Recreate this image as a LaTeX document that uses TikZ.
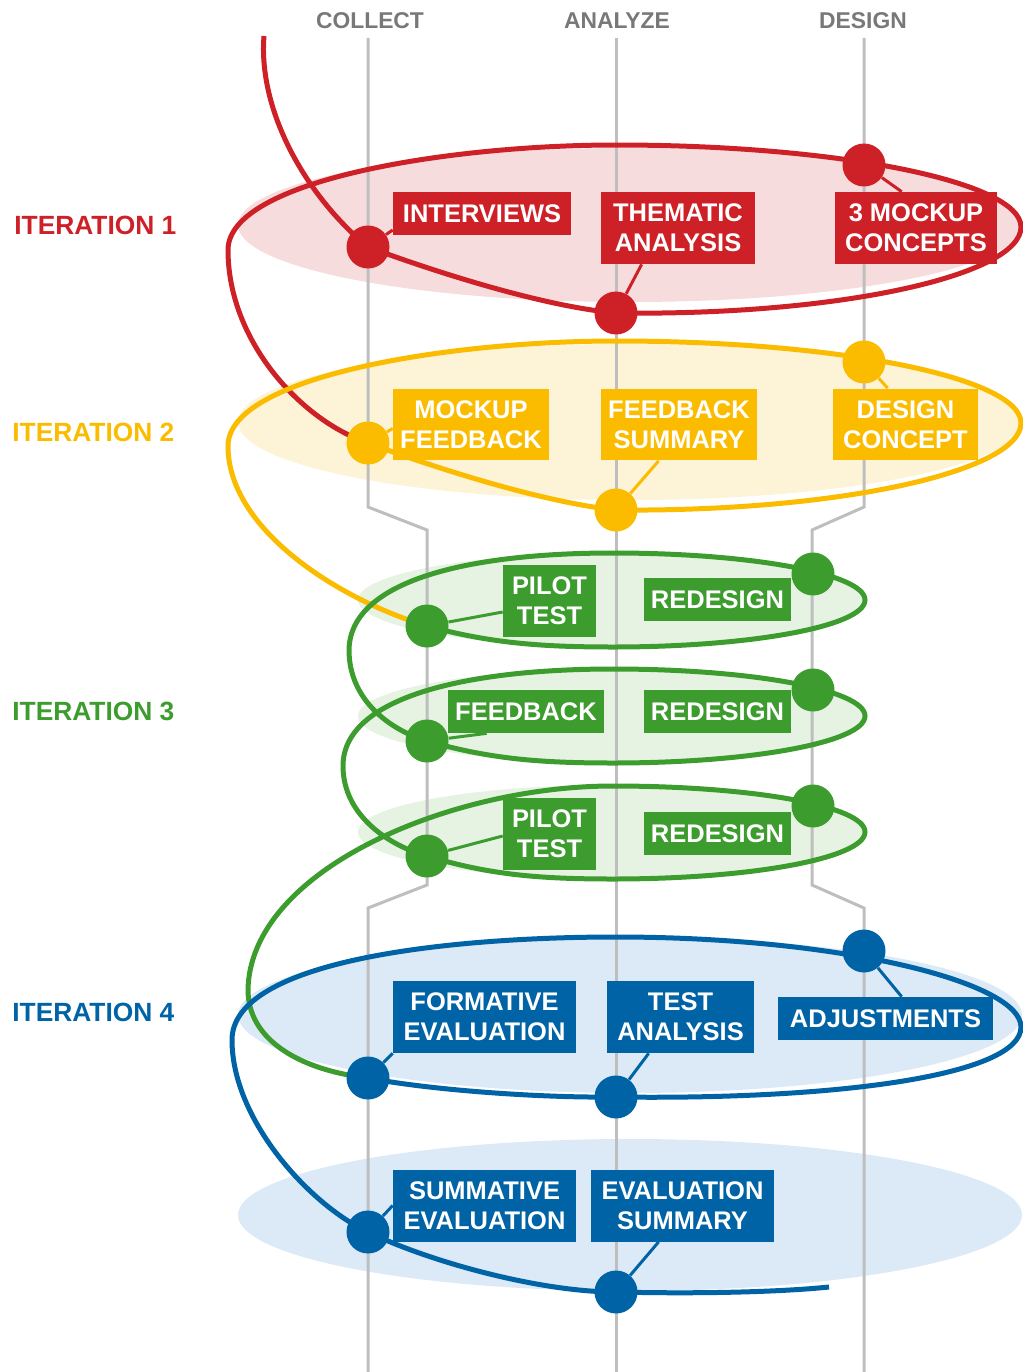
\documentclass[tikz,border=0pt]{standalone}
\usepackage{fontspec}
\setmainfont{Liberation Sans}
\usetikzlibrary{positioning}
\definecolor{itred}{RGB}{206,32,39}
\definecolor{ityellow}{RGB}{251,188,0}
\definecolor{itgreen}{RGB}{61,156,46}
\definecolor{itblue}{RGB}{0,99,166}
\definecolor{lightred}{RGB}{247,220,221}
\definecolor{lightyellow}{RGB}{253,243,215}
\definecolor{lightgreen}{RGB}{230,243,226}
\definecolor{lightblue}{RGB}{219,234,246}
\definecolor{colgray}{RGB}{190,190,190}
\definecolor{headgray}{RGB}{120,120,120}
\pgfdeclarelayer{back}
\pgfsetlayers{back,main}

\begin{document}
\begin{tikzpicture}[x=0.02cm, y=-0.02cm,
  tag/.style={fill=#1, text=white, font=\fontsize{14.5}{17}\selectfont\bfseries,
              align=center, inner sep=0pt, minimum height=0.86cm},
  tagtwo/.style={tag=#1, minimum height=1.44cm},
  spot/.style={circle, fill=#1, inner sep=0pt, minimum size=0.86cm},
  itlabel/.style={text=#1, font=\fontsize{15}{18}\selectfont\bfseries, anchor=west, inner sep=0pt},
  colhead/.style={text=headgray, font=\fontsize{13}{15}\selectfont\bfseries},
  loopline/.style={draw=#1, line width=0.1cm},
  leader/.style={draw=#1, line width=0.06cm},
  colline/.style={draw=colgray, line width=0.06cm}]
\useasboundingbox (0,0) rectangle (1023,1372);

\node[colhead] (hcol) at (370,21) {COLLECT};
\node[colhead] (hana) at (617,21) {ANALYZE};
\node[colhead] (hdes) at (863,21) {DESIGN};

\node[itlabel=itred] (it1) at (14,225) {ITERATION 1};
\node[itlabel=ityellow] (it2) at (12,432) {ITERATION 2};
\node[itlabel=itgreen] (it3) at (12,711) {ITERATION 3};
\node[itlabel=itblue] (it4) at (12,1012) {ITERATION 4};

\node[spot=itred] (i1c) at (368,247) {};
\node[spot=itred] (i1a) at (616,313) {};
\node[spot=itred] (i1d) at (864,165) {};
\node[spot=ityellow] (i2c) at (368,443) {};
\node[spot=ityellow] (i2a) at (616,510) {};
\node[spot=ityellow] (i2d) at (864,362) {};
\node[spot=itgreen] (g1c) at (427,626) {};
\node[spot=itgreen] (g1d) at (813,574) {};
\node[spot=itgreen] (g2c) at (427,741) {};
\node[spot=itgreen] (g2d) at (813,690) {};
\node[spot=itgreen] (g3c) at (427,856) {};
\node[spot=itgreen] (g3d) at (813,806) {};
\node[spot=itblue] (b1c) at (368,1078) {};
\node[spot=itblue] (b1a) at (616,1097) {};
\node[spot=itblue] (b1d) at (864,951) {};
\node[spot=itblue] (b2c) at (368,1232) {};
\node[spot=itblue] (b2a) at (616,1292) {};

\node[tag=itred, minimum width=3.56cm] (intv) at (482,213.5) {INTERVIEWS};
\node[tagtwo=itred, minimum width=3.08cm] (them) at (678,228) {THEMATIC\\ANALYSIS};
\node[tagtwo=itred, minimum width=3.24cm] (mock) at (916,228) {3 MOCKUP\\CONCEPTS};
\node[tagtwo=ityellow, minimum width=3.12cm] (mfb) at (471,424.5) {MOCKUP\\FEEDBACK};
\node[tagtwo=ityellow, minimum width=3.12cm] (fbs) at (679,424.5) {FEEDBACK\\SUMMARY};
\node[tagtwo=ityellow, minimum width=2.9cm] (dcon) at (905.5,424.5) {DESIGN\\CONCEPT};
\node[tagtwo=itgreen, minimum width=1.86cm] (pt1) at (549.5,601) {PILOT\\TEST};
\node[tag=itgreen, minimum width=2.94cm] (rd1) at (717.5,599.5) {REDESIGN};
\node[tag=itgreen, minimum width=3.12cm] (fb) at (526,711.5) {FEEDBACK};
\node[tag=itgreen, minimum width=2.94cm] (rd2) at (717.5,711.5) {REDESIGN};
\node[tagtwo=itgreen, minimum width=1.86cm] (pt2) at (549.5,834) {PILOT\\TEST};
\node[tag=itgreen, minimum width=2.94cm] (rd3) at (717.5,833.5) {REDESIGN};
\node[tagtwo=itblue, minimum width=3.66cm] (form) at (484.5,1017) {FORMATIVE\\EVALUATION};
\node[tagtwo=itblue, minimum width=2.94cm] (tan) at (680.5,1017) {TEST\\ANALYSIS};
\node[tag=itblue, minimum width=4.3cm] (adj) at (885.5,1018.5) {ADJUSTMENTS};
\node[tagtwo=itblue, minimum width=3.66cm] (summ) at (484.5,1205.5) {SUMMATIVE\\EVALUATION};
\node[tagtwo=itblue, minimum width=3.66cm] (evs) at (682.5,1205.5) {EVALUATION\\SUMMARY};

\begin{pgfonlayer}{back}
\fill[lightred] (630,225) ellipse [x radius=392, y radius=77];
\fill[lightyellow] (630,422) ellipse [x radius=392, y radius=78];
\fill[lightgreen] (612,600) ellipse [x radius=254, y radius=47];
\fill[lightgreen] (612,716) ellipse [x radius=254, y radius=47];
\fill[lightgreen] (612,832) ellipse [x radius=254, y radius=47];
\fill[lightblue] (630,1015) ellipse [x radius=392, y radius=78];
\fill[lightblue] (630,1215) ellipse [x radius=392, y radius=76];

\draw[colline] (368,38) -- (368,507) -- (427,530) -- (427,885) -- (368,908) -- (368,1372);
\draw[colline] (616,38) -- (616,1372);
\draw[colline] (864,38) -- (864,507) -- (812,530) -- (812,885) -- (864,908) -- (864,1372);

\draw[loopline=itred] (264,36) .. controls (258,110) and (305,195) .. (i1c.center)
  .. controls (430,270) and (540,306) .. (i1a.center)
  .. controls (840,316) and (1021,275) .. (1021,227)
  .. controls (1021,182) and (840,145) .. (616,145)
  .. controls (450,145) and (228,180) .. (228,250)
  .. controls (228,340) and (300,420) .. (i2c.center);
\draw[loopline=ityellow] (i2c.center)
  .. controls (430,466) and (540,502) .. (i2a.center)
  .. controls (840,512) and (1021,471) .. (1021,423)
  .. controls (1021,378) and (840,341) .. (616,341)
  .. controls (450,341) and (228,376) .. (228,446)
  .. controls (228,530) and (340,600) .. (g1c.center);
\draw[loopline=itgreen] (g1c.center)
  .. controls (490,643) and (540,647) .. (613,647)
  .. controls (752,647) and (865,626) .. (865,600)
  .. controls (865,574) and (752,553) .. (613,553)
  .. controls (470,553) and (350,580) .. (349,650)
  .. controls (349,700) and (390,730) .. (g2c.center)
  .. controls (490,759) and (540,763) .. (613,763)
  .. controls (752,763) and (865,742) .. (865,716)
  .. controls (865,690) and (752,669) .. (613,669)
  .. controls (470,669) and (343,696) .. (343,766)
  .. controls (343,816) and (390,846) .. (g3c.center)
  .. controls (490,875) and (540,879) .. (613,879)
  .. controls (752,879) and (865,858) .. (865,832)
  .. controls (865,806) and (752,786) .. (613,786)
  .. controls (450,786) and (250,870) .. (248,990)
  .. controls (248,1040) and (300,1070) .. (b1c.center);
\draw[loopline=itblue] (b1c.center)
  .. controls (430,1090) and (540,1098) .. (b1a.center)
  .. controls (840,1100) and (1021,1075) .. (1021,1027)
  .. controls (1021,982) and (840,937) .. (616,937)
  .. controls (450,937) and (232,960) .. (232,1040)
  .. controls (232,1120) and (310,1205) .. (b2c.center)
  .. controls (430,1262) and (540,1292) .. (b2a.center)
  .. controls (700,1294) and (780,1292) .. (829,1287);

\draw[leader=itred] (i1c) -- ([yshift=-0.33cm]intv.west);
\draw[leader=itred] (i1a) -- ([xshift=0.82cm]them.south west);
\draw[leader=itred] (i1d) -- ([xshift=1.34cm]mock.north west);
\draw[leader=ityellow] (i2c) -- ([yshift=-0.08cm]mfb.west);
\draw[leader=ityellow] (i2a) -- ([xshift=1.16cm]fbs.south west);
\draw[leader=ityellow] (i2d) -- ([xshift=1.1cm]dcon.north west);
\draw[leader=itgreen] (g1c) -- ([yshift=-0.22cm]pt1.west);
\draw[leader=itgreen] (g2c) -- ([xshift=0.78cm]fb.south west);
\draw[leader=itgreen] (g3c) -- ([yshift=-0.04cm]pt2.west);
\draw[leader=itblue] (b1c) -- (form.south west);
\draw[leader=itblue] (b1a) -- ([xshift=0.84cm]tan.south west);
\draw[leader=itblue] (b1d) -- ([xshift=2.48cm]adj.north west);
\draw[leader=itblue] (b2c) -- (summ.west);
\draw[leader=itblue] (b2a) -- ([xshift=1.36cm]evs.south west);
\end{pgfonlayer}
\end{tikzpicture}
\end{document}
